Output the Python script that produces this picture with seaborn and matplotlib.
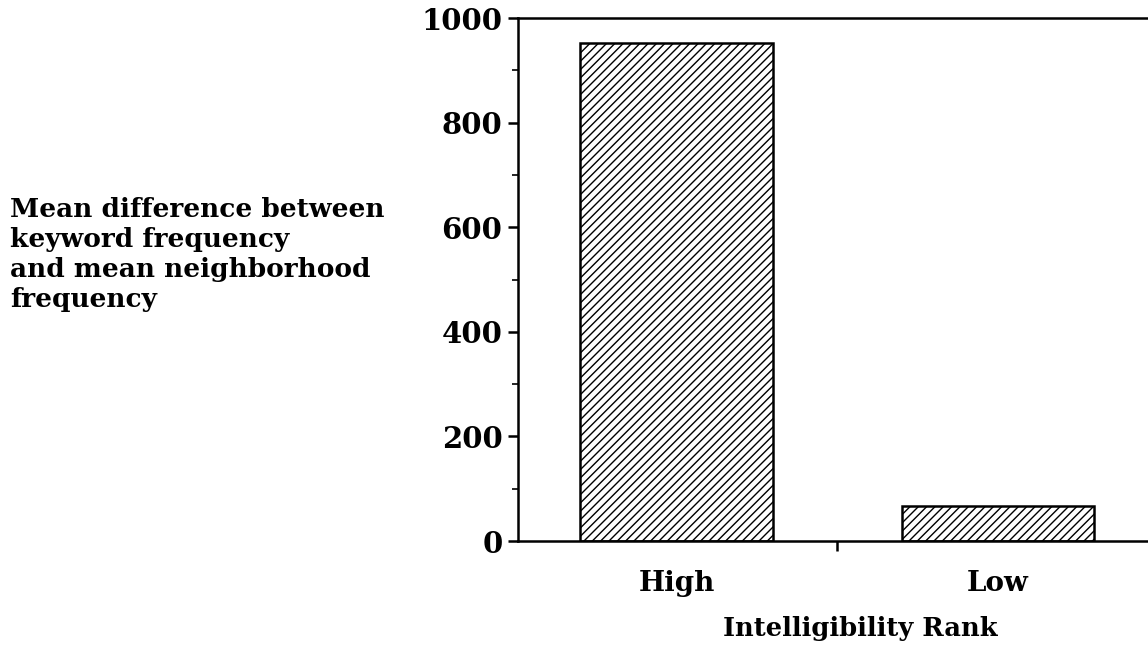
import pandas as pd
import seaborn as sns
import matplotlib.pyplot as plt
from matplotlib.ticker import MultipleLocator, FixedLocator

# values
ranks = ['High', 'Low']
mean_diff = [953, 66]

df = pd.DataFrame({'Rank': ranks, 'MeanDiff': mean_diff})

sns.set_style('ticks')
plt.rcParams['font.family'] = ['DejaVu Serif']
plt.rcParams['font.weight'] = 'bold'
plt.rcParams['text.color'] = 'black'
plt.rcParams['xtick.color'] = 'black'
plt.rcParams['ytick.color'] = 'black'
plt.rcParams['axes.edgecolor'] = 'black'
plt.rcParams['axes.labelcolor'] = 'black'
plt.rcParams['hatch.linewidth'] = 1.0

fs = 19

fig = plt.figure(figsize=(11.48, 6.49), dpi=100)
ax = fig.add_axes([0.451, 0.1664, 0.549, 0.8056])

sns.barplot(data=df, x='Rank', y='MeanDiff', color='white', edgecolor='black',
            linewidth=1.8, width=0.6, hatch='////', ax=ax)

ax.set_ylim(0, 1000)
ax.set_xlim(-0.495, 1.467)
ax.yaxis.set_major_locator(MultipleLocator(200))
ax.yaxis.set_minor_locator(MultipleLocator(100))
ax.tick_params(axis='y', which='major', length=7, width=1.8, labelsize=21, pad=4)
ax.tick_params(axis='y', which='minor', length=4, width=1.2)

ax.xaxis.set_minor_locator(FixedLocator([0.5]))
ax.tick_params(axis='x', which='major', length=0, labelsize=20, pad=21)
ax.tick_params(axis='x', which='minor', length=7, width=1.8)

for side in ['left', 'bottom', 'top']:
    ax.spines[side].set_linewidth(1.8)
ax.spines['right'].set_visible(False)

ax.set_xlabel('Intelligibility Rank', fontsize=18.5, fontweight='bold')
ax.xaxis.set_label_coords(0.544, -0.143)
ax.set_ylabel('')

fig.text(0.009, 0.697, 'Mean difference between\nkeyword frequency\nand mean neighborhood\nfrequency',
         ha='left', va='top', fontsize=fs, fontweight='bold', linespacing=1.25)

fig.savefig('out.png', dpi=100)
